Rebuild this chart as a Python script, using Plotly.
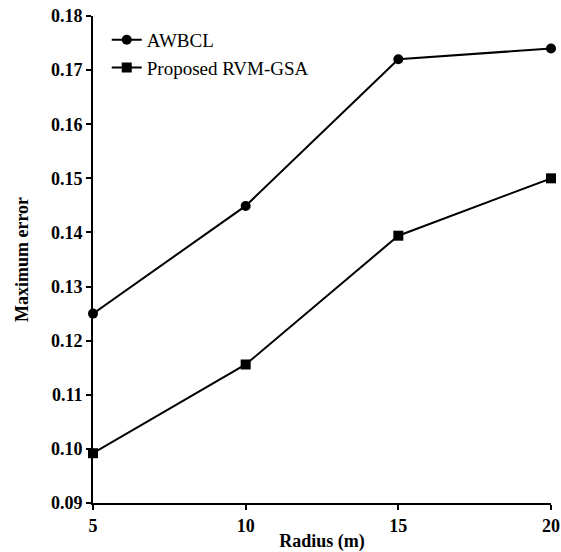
import plotly.graph_objects as go

radius = [5, 10, 15, 20]
awbcl = [0.125, 0.1449, 0.172, 0.174]
proposed = [0.0992, 0.1156, 0.1394, 0.150]
x_ticks = [5, 10, 15, 20]
y_ticks = [0.09, 0.10, 0.11, 0.12, 0.13, 0.14, 0.15, 0.16, 0.17, 0.18]
y_tick_text = [f"{v:.2f}" for v in y_ticks]

FONT = "Liberation Serif"

fig = go.Figure()
fig.add_trace(go.Scatter(x=radius, y=awbcl, mode="lines+markers", name="AWBCL",
                         line=dict(color="black", width=2),
                         marker=dict(symbol="circle", size=10, color="black"),
                         cliponaxis=False))
fig.add_trace(go.Scatter(x=radius, y=proposed, mode="lines+markers", name="Proposed RVM-GSA",
                         line=dict(color="black", width=2),
                         marker=dict(symbol="square", size=10, color="black"),
                         cliponaxis=False))

fig.update_layout(
    width=561, height=552,
    margin=dict(l=93, r=10, t=16, b=49, autoexpand=False),
    paper_bgcolor="white", plot_bgcolor="white",
    font=dict(family=FONT, color="black", size=18),
    showlegend=True,
    legend=dict(x=0.03, y=0.99, xanchor="left", yanchor="top",
                bgcolor="rgba(0,0,0,0)", font=dict(family=FONT, size=19),
                tracegroupgap=0, itemwidth=30),
    xaxis=dict(range=[5, 20], tickvals=x_ticks, ticktext=[str(v) for v in x_ticks],
               showgrid=False, zeroline=False, showline=True, linecolor="black", linewidth=2,
               ticks="outside", ticklen=5, tickwidth=2, tickcolor="black",
               ticklabeloverflow="allow", automargin=False,
               tickfont=dict(family=FONT, size=18, weight="bold"),
               title=dict(text="Radius (m)", font=dict(family=FONT, size=18, weight="bold"), standoff=0)),
    yaxis=dict(range=[0.09, 0.18], tickvals=y_ticks, ticktext=y_tick_text,
               showgrid=False, zeroline=False, showline=True, linecolor="black", linewidth=2,
               ticks="outside", ticklen=5, tickwidth=2, tickcolor="black",
               ticklabeloverflow="allow", automargin=False,
               tickfont=dict(family=FONT, size=18, weight="bold"),
               title=dict(text="Maximum error", font=dict(family=FONT, size=18, weight="bold"), standoff=18)),
)

fig.write_html("out.html")
